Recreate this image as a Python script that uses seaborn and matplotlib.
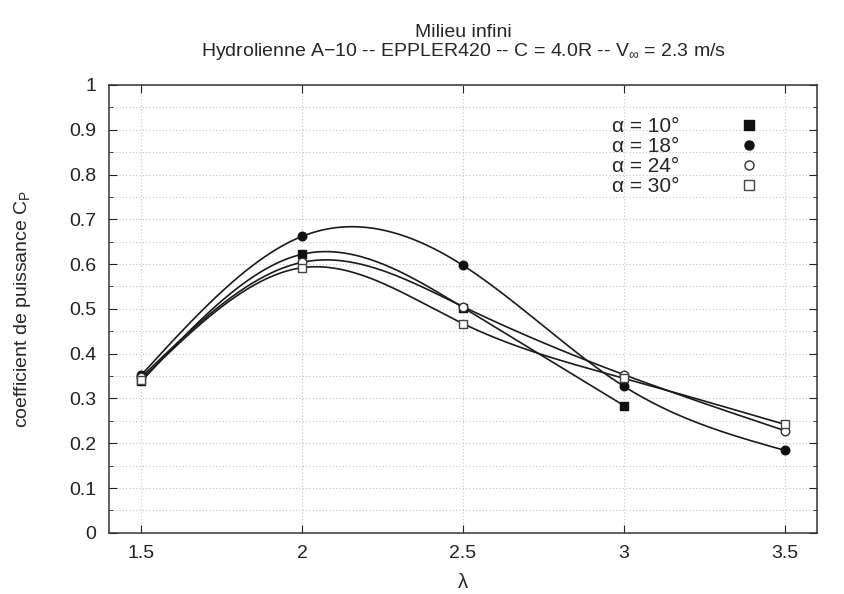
import numpy as np
import pandas as pd
import matplotlib
matplotlib.use("Agg")
import matplotlib.pyplot as plt
from matplotlib.ticker import MultipleLocator
from matplotlib.lines import Line2D
import seaborn as sns

# lambda values (tip speed ratio)
lam_10 = [1.5, 2.0, 2.5, 3.0]
cp_10 = [0.338, 0.622, 0.503, 0.284]

lam_18 = [1.5, 2.0, 2.5, 3.0, 3.5]
cp_18 = [0.352, 0.662, 0.597, 0.327, 0.184]

lam_24 = [1.5, 2.0, 2.5, 3.0, 3.5]
cp_24 = [0.347, 0.604, 0.505, 0.353, 0.228]

lam_30 = [1.5, 2.0, 2.5, 3.0, 3.5]
cp_30 = [0.342, 0.592, 0.467, 0.345, 0.242]

labels = ["α = 10°", "α = 18°", "α = 24°", "α = 30°"]


def natural_spline(x, y, n=200):
    # natural cubic spline, like gnuplot "smooth csplines"
    x = np.asarray(x, float)
    y = np.asarray(y, float)
    k = len(x)
    h = np.diff(x)
    A = np.zeros((k, k))
    b = np.zeros(k)
    A[0, 0] = A[-1, -1] = 1
    for i in range(1, k - 1):
        A[i, i - 1] = h[i - 1]
        A[i, i] = 2 * (h[i - 1] + h[i])
        A[i, i + 1] = h[i]
        b[i] = 6 * ((y[i + 1] - y[i]) / h[i] - (y[i] - y[i - 1]) / h[i - 1])
    M = np.linalg.solve(A, b)
    xs = np.linspace(x[0], x[-1], n)
    ys = np.empty_like(xs)
    for j, t in enumerate(xs):
        i = min(np.searchsorted(x, t, side="right") - 1, k - 2)
        a, c = x[i], x[i + 1]
        hi = c - a
        ys[j] = (M[i] * (c - t) ** 3 / (6 * hi) + M[i + 1] * (t - a) ** 3 / (6 * hi)
                 + (y[i] / hi - M[i] * hi / 6) * (c - t)
                 + (y[i + 1] / hi - M[i + 1] * hi / 6) * (t - a))
    return xs, ys


sns.set_style("ticks")
plt.rcParams["font.family"] = ["Liberation Sans", "DejaVu Sans"]
plt.rcParams["mathtext.fontset"] = "custom"
plt.rcParams["mathtext.rm"] = "Liberation Sans"
plt.rcParams["mathtext.it"] = "Liberation Sans"

fig = plt.figure(figsize=(8.45, 5.94), dpi=100)
ax = fig.add_axes([0.129, 0.103, 0.838, 0.754])

series = [
    (lam_10, cp_10, "s", "#111111", "#111111"),
    (lam_18, cp_18, "o", "#111111", "#111111"),
    (lam_24, cp_24, "o", "white", "#333333"),
    (lam_30, cp_30, "s", "white", "#444444"),
]

handles = []
for (lx, ly, m, fc, ec), lab in zip(series, labels):
    xs, ys = natural_spline(lx, ly)
    sns.lineplot(x=xs, y=ys, ax=ax, color="#1a1a1a", lw=1.2, sort=False)
    df = pd.DataFrame({"lam": lx, "cp": ly})
    sns.scatterplot(data=df, x="lam", y="cp", ax=ax, marker=m, s=38,
                    color=fc, edgecolor=ec, linewidth=1.0, zorder=5)
    handles.append(Line2D([], [], ls="none", marker=m, markersize=6.5,
                          markerfacecolor=fc, markeredgecolor=ec,
                          markeredgewidth=1.0, label=lab))

ax.set_xlim(1.4, 3.6)
ax.set_ylim(0, 1)
ax.set_xticks([1.5, 2, 2.5, 3, 3.5])
ax.set_xticklabels(["1.5", "2", "2.5", "3", "3.5"])
ax.set_yticks(np.arange(0, 1.01, 0.1))
ax.set_yticklabels(["0", "0.1", "0.2", "0.3", "0.4", "0.5", "0.6", "0.7",
                    "0.8", "0.9", "1"])
ax.yaxis.set_minor_locator(MultipleLocator(0.05))

ax.grid(which="major", axis="both", color="#c4c4c4", ls=(0, (1, 2)), lw=0.8)
ax.grid(which="minor", axis="y", color="#c4c4c4", ls=(0, (1, 2)), lw=0.8)
ax.tick_params(which="both", direction="in", top=True, right=True,
               labelsize=14, colors="#222222", pad=9)
ax.tick_params(which="major", length=6)
ax.tick_params(which="minor", length=3)
for s in ax.spines.values():
    s.set_color("#333333")
    s.set_linewidth(1.1)

ax.set_xlabel("λ", fontsize=14.5, labelpad=8)
ax.set_ylabel("coefficient de puissance C$_\\mathrm{P}$", fontsize=14, labelpad=26)
ax.set_title("Milieu infini\nHydrolienne A\u221210 -- EPPLER420 -- C = 4.0R -- V$_\\infty$ = 2.3 m/s",
             fontsize=14, linespacing=1.0, pad=21)

leg = ax.legend(handles=handles, loc="upper right", bbox_to_anchor=(0.953, 0.97),
                frameon=False, markerfirst=False, fontsize=15,
                handletextpad=2.6, labelspacing=0.05, handlelength=1.5)

fig.savefig("out.png", dpi=100)
